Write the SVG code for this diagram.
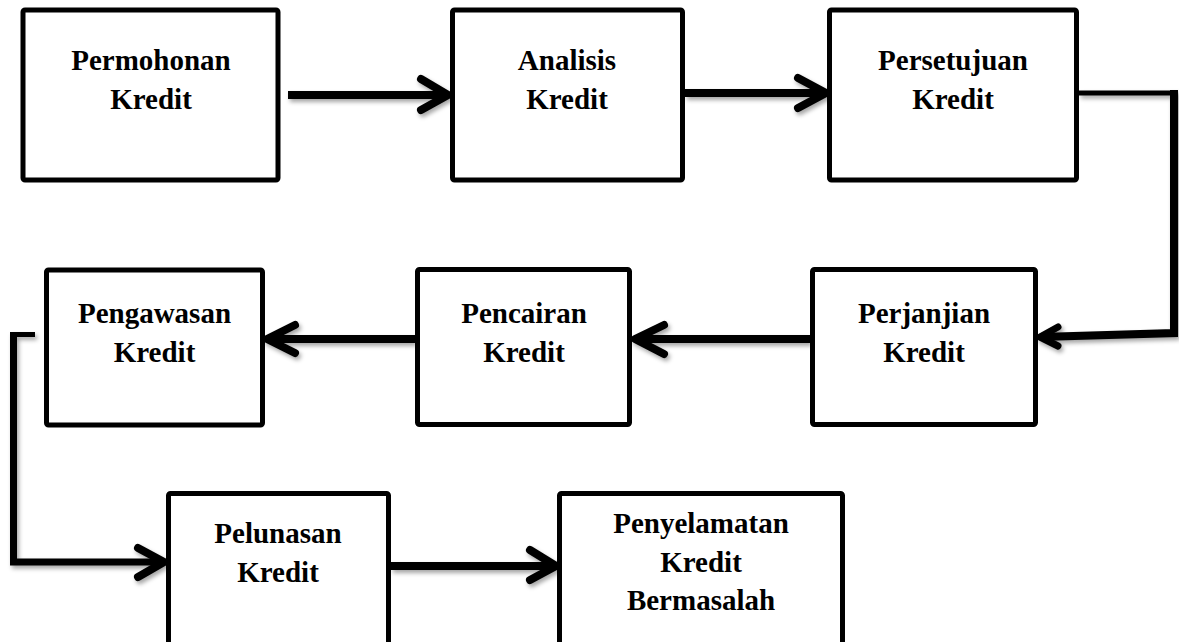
<svg xmlns="http://www.w3.org/2000/svg" width="1179" height="642" viewBox="0 0 1179 642">
  <defs>
    <style>
      .box { fill: #ffffff; stroke: #000000; stroke-width: 5; }
      .lbl { font-family: "Liberation Serif", "Times New Roman", serif; font-weight: bold; font-size: 29px; fill: #000000; text-anchor: middle; }
      .wire { fill: none; stroke: #000000; stroke-width: 8; stroke-linejoin: miter; }
      .thin { stroke-width: 5; }
      .head { fill: none; stroke: #000000; stroke-width: 8; stroke-linecap: round; stroke-linejoin: round; }
    </style>
    <filter id="shade" x="-10%" y="-30%" width="120%" height="160%">
      <feDropShadow dx="2" dy="3" stdDeviation="2" flood-color="#000000" flood-opacity="0.35"/>
    </filter>
  </defs>
  <rect width="1179" height="642" fill="#ffffff"/>

  <!-- flow connectors -->
  <g id="connectors" filter="url(#shade)">
    <!-- Permohonan -> Analisis -->
    <line class="wire" x1="288" y1="95" x2="446" y2="95"/>
    <polyline class="head" points="421,79 448,95 421,110"/>
    <!-- Analisis -> Persetujuan -->
    <line class="wire" x1="685" y1="93" x2="824" y2="93"/>
    <polyline class="head" points="798,78 826,93 798,108"/>
    <!-- Persetujuan -> Perjanjian -->
    <polyline class="wire thin" points="1079,93 1174,93"/>
    <polyline class="wire" points="1174,90 1174,333 1040,337"/>
    <polyline class="head" style="stroke-width:7" points="1058,327 1040,337 1058,346"/>
    <!-- Perjanjian -> Pencairan -->
    <line class="wire" x1="810" y1="339" x2="637" y2="339"/>
    <polyline class="head" points="664,325 635,339 664,354"/>
    <!-- Pencairan -> Pengawasan -->
    <line class="wire" x1="415" y1="339" x2="269" y2="339"/>
    <polyline class="head" points="295,325 267,339 295,353"/>
    <!-- Pengawasan -> Pelunasan -->
    <polyline class="wire thin" points="35,334.5 11,334.5"/>
    <polyline class="wire" style="stroke-width:7" points="13.5,332 13.5,562 163,562"/>
    <polyline class="head" points="138,548 164,562 138,577"/>
    <!-- Pelunasan -> Penyelamatan -->
    <line class="wire" x1="391" y1="566" x2="554" y2="566"/>
    <polyline class="head" points="530,550 556,566 530,580"/>
  </g>

  <g id="permohonan">
    <rect class="box" x="23" y="10" width="255" height="170" rx="2"/>
    <text class="lbl" x="151" y="70">Permohonan</text>
    <text class="lbl" x="151" y="109">Kredit</text>
  </g>

  <g id="analisis">
    <rect class="box" x="452.5" y="10" width="230" height="170" rx="2"/>
    <text class="lbl" x="567" y="70">Analisis</text>
    <text class="lbl" x="567" y="109">Kredit</text>
  </g>

  <g id="persetujuan">
    <rect class="box" x="829.5" y="10" width="247" height="170" rx="2"/>
    <text class="lbl" x="953" y="70">Persetujuan</text>
    <text class="lbl" x="953" y="109">Kredit</text>
  </g>

  <g id="perjanjian">
    <rect class="box" x="812.5" y="269.5" width="223" height="155" rx="2"/>
    <text class="lbl" x="924" y="323">Perjanjian</text>
    <text class="lbl" x="924" y="362">Kredit</text>
  </g>

  <g id="pencairan">
    <rect class="box" x="417.5" y="269.5" width="212" height="155" rx="2"/>
    <text class="lbl" x="524" y="323">Pencairan</text>
    <text class="lbl" x="524" y="362">Kredit</text>
  </g>

  <g id="pengawasan">
    <rect class="box" x="46.5" y="270" width="216" height="155" rx="2"/>
    <text class="lbl" x="154.5" y="323">Pengawasan</text>
    <text class="lbl" x="154.5" y="362">Kredit</text>
  </g>

  <g id="pelunasan">
    <rect class="box" x="168.5" y="493.5" width="220" height="170" rx="2"/>
    <text class="lbl" x="278" y="543">Pelunasan</text>
    <text class="lbl" x="278" y="582">Kredit</text>
  </g>

  <g id="penyelamatan">
    <rect class="box" x="559.5" y="493.5" width="283" height="170" rx="2"/>
    <text class="lbl" x="701" y="533">Penyelamatan</text>
    <text class="lbl" x="701" y="572">Kredit</text>
    <text class="lbl" x="701" y="610">Bermasalah</text>
  </g>
</svg>
